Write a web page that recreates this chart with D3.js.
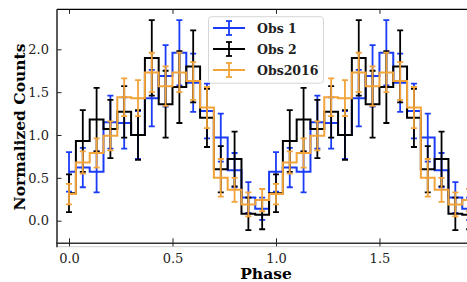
<!DOCTYPE html>
<html>
<head>
<meta charset="utf-8">
<script src="https://cdn.jsdelivr.net/npm/d3@7"></script>
<style>
  body { margin: 0; background: #fff; }
  svg { display: block; }
</style>
</head>
<body>
<script>
// phase-folded light curves, 15 bins per cycle, plotted over two cycles

var binsPerCycle = 15;

// Obs 1 (blue)
var obs1Vals = [0.57, 0.62, 0.57, 1.15, 1.14, 1.00, 1.43, 1.69, 1.96, 1.61, 1.28, 0.97, 0.59, 0.27, 0.14];
var obs1Errs = [0.23, 0.23, 0.24, 0.31, 0.30, 0.28, 0.33, 0.36, 0.38, 0.34, 0.32, 0.28, 0.20, 0.18, 0.13];

// Obs 2 (black)
var obs2Vals = [0.32, 0.93, 1.18, 1.07, 1.27, 1.00, 1.90, 1.36, 1.56, 1.80, 1.20, 0.60, 0.72, 0.08, 0.07];
var obs2Errs = [0.22, 0.36, 0.37, 0.34, 0.30, 0.29, 0.44, 0.39, 0.42, 0.42, 0.34, 0.27, 0.32, 0.19, 0.17];

// Obs2016 (orange)
var obs16Vals = [0.31, 0.68, 0.79, 0.99, 1.44, 1.43, 1.73, 1.57, 1.73, 1.63, 1.32, 0.50, 0.36, 0.19, 0.24];
var obs16Errs = [0.12, 0.13, 0.17, 0.17, 0.22, 0.21, 0.23, 0.23, 0.23, 0.22, 0.24, 0.22, 0.14, 0.14, 0.13];

var seriesNames = ["Obs 1", "Obs 2", "Obs2016"];
var seriesColors = ["#1a3cf5", "#000000", "#f2a33a"];

var xTicks = [0, 0.5, 1.0, 1.5];
var yTicks = [0, 0.5, 1.0, 1.5, 2.0];

(function(){

var width = 467, height = 282;
var padL = 57, padR = 467, padT = 9.3, padB = 243.3;

var svg = d3.select("body").append("svg")
    .attr("width", width)
    .attr("height", height);

var x = d3.scaleLinear().domain([-0.058, 1.923]).range([padL, padR]);
var y = d3.scaleLinear().domain([-0.264, 2.467]).range([padB, padT]);

svg.append("defs").append("clipPath").attr("id", "plotclip")
    .append("rect")
    .attr("x", padL).attr("y", padT)
    .attr("width", padR - padL).attr("height", padB - padT);

//build two cycles of points from a single cycle of bins
function twoCycles(vals, errs){
    var pts = [];
    for (var c = 0; c < 2; c++){
        for (var k = 0; k < vals.length; k++){
            pts.push({ph: c + k / binsPerCycle, v: vals[k], e: errs[k]});
        }
    }
    return pts;
}

var allSeries = [
    twoCycles(obs1Vals, obs1Errs),
    twoCycles(obs2Vals, obs2Errs),
    twoCycles(obs16Vals, obs16Errs)
];

var plot = svg.append("g").attr("clip-path", "url(#plotclip)");

var stepLine = d3.line()
    .x(function(d){ return x(d.ph); })
    .y(function(d){ return y(d.v); })
    .curve(d3.curveStep);

var cap = 3;

allSeries.forEach(function(pts, i){
    var g = plot.append("g");
    g.append("path")
        .datum(pts)
        .attr("d", stepLine)
        .attr("fill", "none")
        .attr("stroke", seriesColors[i])
        .attr("stroke-width", 2);

    var bars = g.selectAll(".bar").data(pts).enter().append("g");
    bars.append("line")
        .attr("x1", function(d){ return x(d.ph); })
        .attr("x2", function(d){ return x(d.ph); })
        .attr("y1", function(d){ return y(d.v - d.e); })
        .attr("y2", function(d){ return y(d.v + d.e); })
        .attr("stroke", seriesColors[i])
        .attr("stroke-width", 1.8);
    [1, -1].forEach(function(s){
        bars.append("line")
            .attr("x1", function(d){ return x(d.ph) - cap; })
            .attr("x2", function(d){ return x(d.ph) + cap; })
            .attr("y1", function(d){ return y(d.v + s * d.e); })
            .attr("y2", function(d){ return y(d.v + s * d.e); })
            .attr("stroke", seriesColors[i])
            .attr("stroke-width", 1.8);
    });
});

// frame
svg.append("line")
    .attr("x1", padL).attr("x2", padR).attr("y1", padT).attr("y2", padT)
    .attr("stroke", "#000").attr("stroke-width", 1.2);
svg.append("line")
    .attr("x1", padL - 1).attr("x2", padR).attr("y1", padB).attr("y2", padB)
    .attr("stroke", "#333").attr("stroke-width", 1.6);
svg.append("line")
    .attr("x1", padL).attr("x2", padR).attr("y1", padB + 3.4).attr("y2", padB + 3.4)
    .attr("stroke", "#cfcfcf").attr("stroke-width", 1);
svg.append("line")
    .attr("x1", padL).attr("x2", padL).attr("y1", padT).attr("y2", padB + 4)
    .attr("stroke", "#333").attr("stroke-width", 1.6);

// axes with inward ticks
var tickFont = "DejaVu Serif, serif";

var xAxisBottom = svg.append("g")
    .attr("transform", "translate(0," + padB + ")")
    .call(d3.axisBottom(x).tickValues(xTicks).tickFormat(d3.format(".1f")).tickSizeInner(-5).tickSizeOuter(0).tickPadding(10));
var xAxisTop = svg.append("g")
    .attr("transform", "translate(0," + padT + ")")
    .call(d3.axisTop(x).tickValues(xTicks).tickSizeInner(-4.5).tickSizeOuter(0).tickFormat(""));
var yAxisLeft = svg.append("g")
    .attr("transform", "translate(" + padL + ",0)")
    .call(d3.axisLeft(y).tickValues(yTicks).tickFormat(d3.format(".1f")).tickSizeInner(-4.5).tickSizeOuter(0).tickPadding(8));

[xAxisBottom, xAxisTop, yAxisLeft].forEach(function(a){
    a.select(".domain").remove();
    a.selectAll(".tick line").attr("stroke", "#222").attr("stroke-width", 1);
    a.selectAll(".tick text")
        .attr("font-family", tickFont)
        .attr("font-size", 13)
        .attr("fill", "#222");
});
// bottom ticks poke slightly outside the spine
xAxisBottom.selectAll(".tick line").attr("y1", 3);

// axis labels
svg.append("text")
    .attr("x", 266)
    .attr("y", 279)
    .attr("text-anchor", "middle")
    .attr("font-family", tickFont)
    .attr("font-weight", "bold")
    .attr("font-size", 15.5)
    .text("Phase");

svg.append("text")
    .attr("transform", "translate(25,127) rotate(-90)")
    .attr("text-anchor", "middle")
    .attr("font-family", tickFont)
    .attr("font-weight", "bold")
    .attr("font-size", 15.5)
    .text("Normalized Counts");

// legend
var legend = svg.append("g");
legend.append("rect")
    .attr("x", 208.5).attr("y", 16.7)
    .attr("width", 115).attr("height", 66.5)
    .attr("rx", 3)
    .attr("fill", "#fff").attr("fill-opacity", 0.85)
    .attr("stroke", "#d6d6d6").attr("stroke-width", 1);

seriesNames.forEach(function(name, i){
    var cy = 28 + i * 21;
    var col = seriesColors[i];
    legend.append("line")
        .attr("x1", 213).attr("x2", 245).attr("y1", cy).attr("y2", cy)
        .attr("stroke", col).attr("stroke-width", 2);
    legend.append("line")
        .attr("x1", 229).attr("x2", 229).attr("y1", cy - 7).attr("y2", cy + 7)
        .attr("stroke", col).attr("stroke-width", 1.8);
    [-7, 7].forEach(function(o){
        legend.append("line")
            .attr("x1", 226).attr("x2", 232).attr("y1", cy + o).attr("y2", cy + o)
            .attr("stroke", col).attr("stroke-width", 1.8);
    });
    legend.append("text")
        .attr("x", 257).attr("y", cy + 4.5)
        .attr("font-family", tickFont)
        .attr("font-weight", "bold")
        .attr("font-size", 12.5)
        .attr("fill", "#222")
        .text(name);
});

})();
</script>
</body>
</html>
